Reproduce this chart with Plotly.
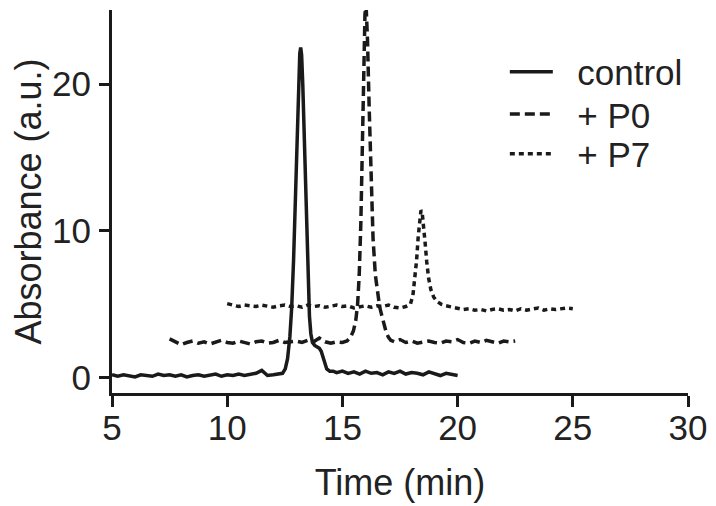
import plotly.graph_objects as go

# ---- data ----
ctrl_time = [5.0, 5.25, 5.5, 5.75, 6.0, 6.25, 6.5, 6.75, 7.0, 7.25, 7.5, 7.75, 8.0, 8.25, 8.5, 8.75,
             9.0, 9.25, 9.5, 9.75, 10.0, 10.25, 10.5, 10.75, 11.0, 11.25, 11.5, 11.75, 12.0, 12.25,
             12.4, 12.52, 12.62, 12.72, 12.8, 12.88, 12.96, 13.04, 13.1, 13.15, 13.19, 13.23, 13.28,
             13.35, 13.42, 13.5, 13.57, 13.63, 13.7, 13.8, 13.9, 14.0, 14.08, 14.16, 14.24, 14.32,
             14.45, 14.6,
             14.75, 15.0, 15.25, 15.5, 15.75, 16.0, 16.25, 16.5, 16.75, 17.0, 17.25, 17.5, 17.75,
             18.0, 18.25, 18.5, 18.75, 19.0, 19.25, 19.5, 19.75, 20.0]
ctrl_abs = [0.2, 0.1, 0.2, 0.15, 0.05, 0.2, 0.15, 0.1, 0.25, 0.15, 0.2, 0.1, 0.2, 0.05, 0.15, 0.2,
            0.1, 0.15, 0.25, 0.1, 0.2, 0.15, 0.25, 0.15, 0.2, 0.3, 0.5, 0.15, 0.2, 0.25,
            0.3, 0.6, 1.3, 2.8, 4.8, 8.0, 12.5, 17.5, 20.5, 22.1, 22.5, 22.0, 20.0,
            16.0, 11.0, 6.8, 4.2, 3.0, 2.4, 2.2, 2.1, 2.0, 1.8, 1.4, 0.9, 0.6,
            0.45, 0.45,
            0.35, 0.45, 0.3, 0.4, 0.25, 0.45, 0.3, 0.35, 0.2, 0.4, 0.3, 0.45, 0.25,
            0.35, 0.3, 0.2, 0.4, 0.3, 0.15, 0.3, 0.2, 0.15]

p0_time = [7.5, 7.75, 8.0, 8.25, 8.5, 8.75, 9.0, 9.25, 9.5, 9.75, 10.0, 10.25, 10.5, 10.75, 11.0,
           11.25, 11.5, 11.75, 12.0, 12.25, 12.5, 12.75, 13.0, 13.25, 13.5, 13.75, 14.0, 14.25,
           14.5, 14.75, 15.0, 15.2, 15.35, 15.48, 15.58, 15.66, 15.73, 15.8, 15.87, 15.93, 15.98,
           16.03, 16.09, 16.16, 16.24, 16.33, 16.43, 16.53, 16.62, 16.7, 16.8, 16.9, 17.0, 17.1,
           17.25, 17.5, 17.75,
           18.0, 18.25, 18.5, 18.75, 19.0, 19.25, 19.5, 19.75, 20.0, 20.25, 20.5, 20.75, 21.0,
           21.25, 21.5, 21.75, 22.0, 22.25, 22.5]
p0_abs = [2.65, 2.45, 2.25, 2.4, 2.5, 2.35, 2.45, 2.3, 2.45, 2.55, 2.4, 2.35, 2.5, 2.4, 2.3,
          2.45, 2.5, 2.35, 2.4, 2.55, 2.4, 2.45, 2.5, 2.4, 2.55, 2.45, 2.7, 2.45,
          2.35, 2.45, 2.4, 2.5, 2.75, 3.2, 3.9, 5.0, 7.0, 10.5, 15.5, 21.0, 24.8,
          25.3, 23.0, 18.5, 13.5, 9.5, 7.0, 5.6, 4.8, 4.3, 3.7, 3.1, 2.75, 2.55,
          2.45, 2.6, 2.4,
          2.5, 2.35, 2.45, 2.5, 2.4, 2.35, 2.5, 2.45, 2.6, 2.4, 2.35, 2.5, 2.4,
          2.55, 2.45, 2.35, 2.5, 2.45, 2.5]

p7_time = [10.0, 10.25, 10.5, 10.75, 11.0, 11.25, 11.5, 11.75, 12.0, 12.25, 12.5, 12.75, 13.0,
           13.25, 13.5, 13.75, 14.0, 14.25, 14.5, 14.75, 15.0, 15.25, 15.5, 15.75, 16.0, 16.25,
           16.5, 16.75, 17.0, 17.25, 17.5, 17.75, 17.95, 18.06, 18.15, 18.22, 18.29, 18.35, 18.41,
           18.46, 18.52, 18.59, 18.66, 18.74, 18.84, 18.96, 19.1, 19.3, 19.5, 19.75, 20.0, 20.25,
           20.5, 20.75, 21.0, 21.25, 21.5, 21.75, 22.0, 22.25, 22.5, 22.75, 23.0, 23.25, 23.5,
           23.75, 24.0, 24.25, 24.5, 24.75, 25.0]
p7_abs = [5.05, 4.95, 4.85, 4.95, 4.9, 4.85, 4.95, 4.9, 4.8, 4.9, 4.95, 4.85, 4.9,
          4.8, 4.95, 4.85, 4.9, 4.8, 4.9, 4.95, 4.85, 4.9, 4.75, 4.85, 4.9, 4.8,
          4.9, 4.85, 4.95, 4.8, 4.75, 4.85, 5.0, 5.6, 6.7, 8.0, 9.6, 10.8, 11.4,
          11.3, 10.5, 9.2, 7.9, 6.8, 6.0, 5.5, 5.2, 5.0, 4.9, 4.8, 4.7, 4.65,
          4.7, 4.6, 4.65, 4.55, 4.65, 4.7, 4.6, 4.65, 4.55, 4.7, 4.6, 4.65, 4.75,
          4.6, 4.7, 4.65, 4.7, 4.75, 4.7]

x_ticks = [5, 10, 15, 20, 25, 30]
y_ticks = [0, 10, 20]

INK = "#1a1a1a"
FONT = "Liberation Sans, Arial, sans-serif"
NB = "\u00a0\u00a0"

fig = go.Figure()
fig.add_trace(go.Scatter(x=ctrl_time, y=ctrl_abs, mode="lines", name=NB + "control",
                         line=dict(color=INK, width=3.5),
                         legend="legend"))
fig.add_trace(go.Scatter(x=p0_time, y=p0_abs, mode="lines", name=NB + "+ P0",
                         line=dict(color=INK, width=3.5, dash="10px,5px"),
                         legend="legend2"))
fig.add_trace(go.Scatter(x=p7_time, y=p7_abs, mode="lines", name=NB + "+ P7",
                         line=dict(color=INK, width=3.5, dash="5px,4px"),
                         legend="legend3"))

leg_common = dict(x=0.682, xanchor="left", yanchor="middle", bgcolor="rgba(0,0,0,0)",
                  font=dict(family=FONT, size=35, color="#222"), itemwidth=43,
                  borderwidth=0)

fig.update_layout(
    width=716, height=506,
    margin=dict(l=112, r=28, t=10, b=113),
    paper_bgcolor="white", plot_bgcolor="white",
    font=dict(family=FONT, size=35, color="#222"),
    showlegend=True,
    legend=dict(y=0.838, **leg_common),
    legend2=dict(y=0.728, **leg_common),
    legend3=dict(y=0.624, **leg_common),
    xaxis=dict(range=[5, 30], tickvals=x_ticks, ticks="outside", ticklen=11, tickwidth=3,
               tickcolor=INK, showline=True, linecolor=INK, linewidth=3, showgrid=False,
               zeroline=False, tickfont=dict(size=35), automargin=False, ticklabelstandoff=-9,
               title=dict(text="Time (min)", font=dict(size=36), standoff=24)),
    yaxis=dict(range=[-1.04, 25.05], tickvals=y_ticks, ticks="outside", ticklen=10, tickwidth=3,
               tickcolor=INK, showline=True, linecolor=INK, linewidth=3, showgrid=False,
               zeroline=False, tickfont=dict(size=35), automargin=False, ticklabelstandoff=1,
               title=dict(text="Absorbance (a.u.)", font=dict(size=36), standoff=0)),
)

fig.write_html("out.html", config={"displayModeBar": False},
               post_script="document.body.style.margin='0';")
